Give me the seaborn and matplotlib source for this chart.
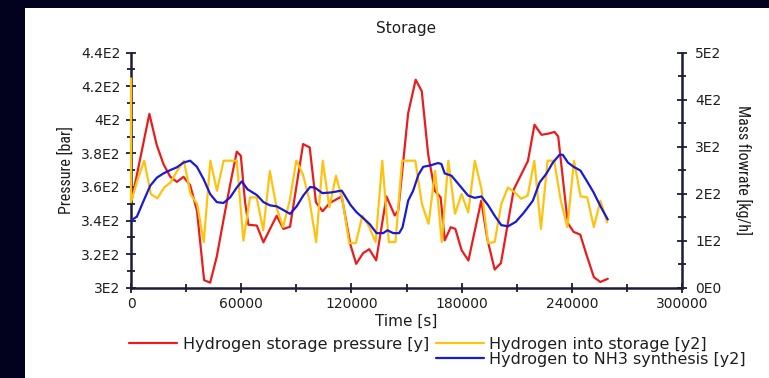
import numpy as np
import pandas as pd
import matplotlib
matplotlib.use("Agg")
import matplotlib.pyplot as plt
from matplotlib.patches import Rectangle
from matplotlib.lines import Line2D
from matplotlib.ticker import MultipleLocator
import seaborn as sns

# Hydrogen storage pressure [bar] at its output times [ks]
pressure_t = [0, 10, 14, 17.7, 21.4, 25, 28.6, 32.2, 35.9, 39.8, 43.1, 46.7, 50.3, 54,
              57.6, 59.8, 62.1, 63.9, 68.5, 72.1, 75.7, 79.3, 83, 86.6, 93.7, 97.3,
              100.7, 104.3, 108.3, 114.7, 119.5, 122.6, 126.4, 129.7, 133.5, 139.1,
              143.6, 145.5, 150.9, 155, 158.3, 161.8, 165.4, 168.6, 170.8, 174.1,
              176.6, 180, 183.7, 190.7, 194, 198, 201.4, 208.4, 212.5, 216.1, 219.7,
              223.5, 227.2, 230.6, 232.6, 237.8, 241, 244.6, 247.8, 252, 255.5, 259.6]
pressure = [350, 403.5, 385, 373.5, 366, 363, 366, 361, 346, 304.5, 303, 318.5, 340, 361.5,
            381, 378.5, 351, 337.5, 337, 327, 335, 342.8, 335, 336.3, 385.5, 383.5,
            350.8, 345.5, 350.5, 354.3, 325.5, 314.2, 320.6, 322.9, 316.3, 354.3,
            343, 345.9, 403.9, 423.8, 417, 379.3, 357.7, 353.7, 328.2, 336,
            335, 322.3, 316.2, 351.8, 329, 310.8, 314.6, 358.5, 367.5, 375.4, 397,
            391, 391.7, 392.7, 390, 338.5, 333.2, 331.6, 320.3, 306.3, 303.4, 305.3]

# Hydrogen into storage [kg/h]: start value, then hourly samples
inflow = [445,
          182, 230, 270, 199, 190, 213, 224, 249, 270, 199, 178, 97, 270, 206, 270, 270,
          270, 100, 192, 192, 122, 248, 171, 129, 185, 270, 241, 185, 97, 270, 171, 238,
          185, 95, 95, 153, 130, 97, 270, 97, 97, 270, 270, 270, 178, 136, 248, 97,
          270, 157, 199, 160, 270, 210, 95, 97, 178, 213, 203, 189, 196, 270, 125, 270,
          270, 185, 129, 270, 194, 192, 129, 185, 139]
inflow_t = np.concatenate([[0.0], np.arange(len(inflow) - 1) * 3600.0])

# Hydrogen to NH3 synthesis [kg/h] at its output times [ks]
nh3_t = [0, 3.2, 6.9, 10.5, 14.1, 17.7, 21.4, 25, 28.6, 32.2, 35.9, 39.5, 43.1, 46.7,
         50.3, 54, 57.6, 60.3, 63.5, 68.5, 72.1, 75.7, 79.3, 83, 86.6, 90.2, 93.8,
         97.5, 100, 104.2, 109, 114.7, 116.4, 119.5, 122.8, 126.4, 130, 133.7, 137.3,
         139.6, 142.8, 146, 147.8, 149.3, 150.9, 153.6, 156.5, 159.1, 163, 167.2, 169,
         170.8, 174.5, 179, 183.5, 187.1, 190.8, 194.5, 198, 201.6, 205.3, 209.5, 214,
         218.8, 222.5, 226.1, 229.7, 233.3, 235.1, 237.9, 241, 244.7, 248, 251.8,
         255.9, 259.6]
nh3 = [143, 151, 185, 217, 234, 243, 250, 256, 266, 270, 257, 231, 199, 182,
       180, 192, 213, 226, 209, 197, 182, 175, 173, 165, 157, 173, 196,
       214, 213, 201, 202.5, 206.4, 196, 176, 160.5, 148, 135, 116, 116,
       122, 116, 116, 128, 155, 185, 206, 240, 257, 260, 265, 263,
       243, 238, 217, 196, 191, 194, 175, 153, 133, 130.5, 140, 160,
       185, 224, 242, 266, 282.5, 282.5, 266, 257, 249, 228, 203,
       171, 145]

x_ticks = [0, 60000, 120000, 180000, 240000, 300000]
x_ticklabels = ["0", "60000", "120000", "180000", "240000", "300000"]
p_ticks = [300, 320, 340, 360, 380, 400, 420, 440]
p_ticklabels = ["3E2", "3.2E2", "3.4E2", "3.6E2", "3.8E2", "4E2", "4.2E2", "4.4E2"]
f_ticks = [0, 100, 200, 300, 400, 500]
f_ticklabels = ["0E0", "1E2", "2E2", "3E2", "4E2", "5E2"]

df_p = pd.DataFrame({"t": np.array(pressure_t) * 1000.0, "v": pressure})
df_in = pd.DataFrame({"t": inflow_t, "v": inflow})
df_nh3 = pd.DataFrame({"t": np.array(nh3_t) * 1000.0, "v": nh3})

RED = "#ea1c1c"
GOLD = "#ffc20e"
BLUE = "#1a1ad6"
NAVY = "#02021f"
AXIS = "#1c1c38"
TEXT = "#1e1e1e"
NARROW = ["Roboto Condensed", "Liberation Sans Narrow", "Liberation Sans", "DejaVu Sans"]

sns.set_style("white")
plt.rcParams["font.family"] = ["DejaVu Sans"]

fig = plt.figure(figsize=(7.69, 3.78), dpi=100, facecolor=NAVY)
# white chart panel inside the dark frame
fig.patches.append(Rectangle((25 / 769, 0), 1, 1 - 8 / 378, transform=fig.transFigure,
                             facecolor="white", edgecolor="none", zorder=-10))

ax = fig.add_axes([131 / 769, 1 - 287.7 / 378, (682 - 131) / 769, (287.7 - 52.5) / 378])
ax.set_facecolor("none")
ax2 = ax.twinx()
ax2.set_facecolor("none")

sns.lineplot(data=df_p, x="t", y="v", ax=ax, color=RED, linewidth=1.6,
             estimator=None, sort=False)
sns.lineplot(data=df_in, x="t", y="v", ax=ax2, color=GOLD, linewidth=1.6,
             estimator=None, sort=False, zorder=4, clip_on=False)
sns.lineplot(data=df_nh3, x="t", y="v", ax=ax2, color=BLUE, linewidth=1.6,
             estimator=None, sort=False, zorder=4)

ax.set_xlim(0, 300000)
ax.set_ylim(300, 440)
ax2.set_ylim(0, 500)

ax.set_xticks(x_ticks)
ax.set_xticklabels(x_ticklabels)
ax.xaxis.set_minor_locator(MultipleLocator(30000))
ax.set_yticks(p_ticks)
ax.set_yticklabels(p_ticklabels)
ax.yaxis.set_minor_locator(MultipleLocator(10))
ax2.set_yticks(f_ticks)
ax2.set_yticklabels(f_ticklabels)
ax2.yaxis.set_minor_locator(MultipleLocator(50))

for a in (ax, ax2):
    a.tick_params(which="major", direction="inout", length=7, width=1.3,
                  color=AXIS, labelcolor=TEXT, labelsize=10)
    a.tick_params(which="minor", direction="inout", length=6, width=1.3, color=AXIS)
    for s in a.spines.values():
        s.set_color(AXIS)
        s.set_linewidth(1.8)
ax.tick_params(axis="y", which="both", left=True, right=False, pad=4)
ax.tick_params(axis="x", which="both", bottom=True, pad=3)
ax2.tick_params(axis="y", which="both", right=True, left=False, pad=6)
ax.spines["top"].set_visible(False)
ax.spines["right"].set_visible(False)
ax2.spines["top"].set_visible(False)
ax2.spines["left"].set_visible(False)
ax2.spines["bottom"].set_visible(False)

ax.set_xlabel("Time [s]", fontsize=11, color=TEXT, labelpad=2)
ax.set_ylabel("Pressure [bar]", fontsize=11.5, color=TEXT, family=NARROW, labelpad=5)
ax2.set_ylabel("Mass flowrate [kg/h]", fontsize=11.5, color=TEXT, rotation=-90,
               family=NARROW, labelpad=22)
ax.set_title("Storage", fontsize=11, color=TEXT, pad=14)

handles = [Line2D([], [], color=RED, lw=1.6),
           Line2D([], [], color="none"),
           Line2D([], [], color=GOLD, lw=1.6),
           Line2D([], [], color=BLUE, lw=1.6)]
labels = ["Hydrogen storage pressure [y]", "",
          "Hydrogen into storage [y2]", "Hydrogen to NH3 synthesis [y2]"]
fig.legend(handles, labels, ncol=2, loc="upper left",
           bbox_to_anchor=(129 / 769, 1 - 337 / 378), frameon=False,
           fontsize=11.5, labelcolor=TEXT, borderpad=0, borderaxespad=0,
           handlelength=3.0, handletextpad=0.35, columnspacing=0.45,
           labelspacing=0.0)

fig.savefig("out.png", dpi=100, facecolor=NAVY)
